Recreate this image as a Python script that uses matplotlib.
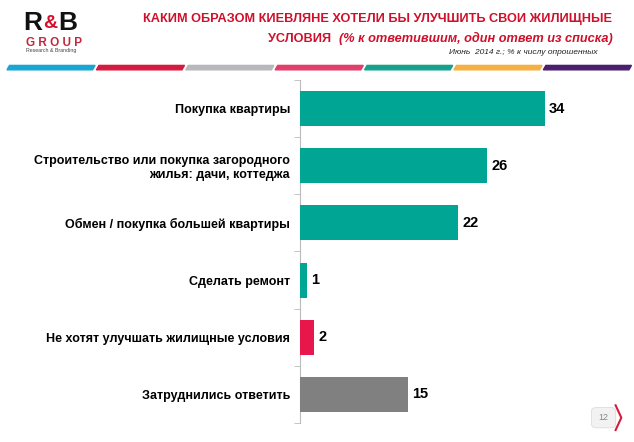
import matplotlib.pyplot as plt
from matplotlib.patches import Polygon, FancyBboxPatch

plt.rcParams['font.family'] = ['Liberation Sans', 'DejaVu Sans']

categories = [
    'Покупка квартиры',
    'Строительство или покупка загородного\nжилья: дачи, коттеджа',
    'Обмен / покупка большей квартиры',
    'Сделать ремонт',
    'Не хотят улучшать жилищные условия',
    'Затруднились ответить',
]
values = [34, 26, 22, 1, 2, 15]
bar_colors = ['#00a594', '#00a594', '#00a594', '#00a594', '#e8174b', '#808080']
stripe_colors = ['#1aa6d2', '#d51a40', '#b8b8bc', '#df3f6a', '#17a08b', '#f4b043', '#4a1f6e']

fig = plt.figure(figsize=(6.34, 4.42), dpi=100)
ax = fig.add_axes([0.473, 0.043, 0.5, 0.776])

y = list(range(len(values)))
ax.barh(y, values, height=0.61, color=bar_colors, zorder=3)
for yi, v in zip(y, values):
    ax.text(v + 0.6, yi, str(v), va='center', ha='left', fontsize=10.5, fontweight='bold')

ax.set_ylim(len(values) - 0.5, -0.5)
ax.set_xlim(0, 44)
ax.set_yticks(y)
ax.set_yticklabels(categories, fontsize=9, fontweight='bold')
ax.set_yticks([i - 0.5 for i in range(len(values) + 1)], minor=True)
ax.tick_params(axis='y', which='major', length=0, pad=7)
ax.tick_params(axis='y', which='minor', length=4, color='#bbbbbb')
ax.set_xticks([])
for s in ['top', 'right', 'bottom']:
    ax.spines[s].set_visible(False)
ax.spines['left'].set_color('#bbbbbb')

# header
red = '#d0102b'
fig.text(0.966, 0.957, 'КАКИМ ОБРАЗОМ КИЕВЛЯНЕ ХОТЕЛИ БЫ УЛУЧШИТЬ СВОИ ЖИЛИЩНЫЕ',
         ha='right', va='center', fontsize=9.2, fontweight='bold', color=red)
sub = fig.text(0.966, 0.912, '(% к ответившим, один ответ из списка)',
               ha='right', va='center', fontsize=9.2, fontweight='bold', style='italic', color=red)
fig.canvas.draw()
bb = sub.get_window_extent(fig.canvas.get_renderer())
left = fig.transFigure.inverted().transform((bb.x0, bb.y0))[0]
fig.text(left - 0.012, 0.912, 'УСЛОВИЯ',
         ha='right', va='center', fontsize=9.2, fontweight='bold', color=red)
fig.text(0.942, 0.882, 'Июнь  2014 г.; % к числу опрошенных',
         ha='right', va='center', fontsize=6, style='italic', color='#222222')

# logo
fig.text(0.037, 0.947, 'R', ha='left', va='center', fontsize=19, fontweight='bold', color='#111111')
fig.text(0.068, 0.947, '&', ha='left', va='center', fontsize=14, fontweight='bold', color=red)
fig.text(0.092, 0.947, 'B', ha='left', va='center', fontsize=19, fontweight='bold', color='#111111')
fig.text(0.041, 0.903, 'G R O U P', ha='left', va='center', fontsize=8.5, fontweight='bold', color='#c0283c')
fig.text(0.041, 0.886, 'Research & Branding', ha='left', va='center', fontsize=3.8, color='#444444')

# colour stripe
x0, x1 = 0.008, 0.995
n = len(stripe_colors)
w = (x1 - x0) / n
yb, yt = 0.842, 0.852
for i, c in enumerate(stripe_colors):
    l = x0 + i * w + 0.003
    r = x0 + (i + 1) * w - 0.003
    poly = Polygon([(l, yb), (r, yb), (r + 0.004, yt), (l + 0.004, yt)],
                   closed=True, transform=fig.transFigure, color=c)
    fig.patches.append(poly)

# page number
box = FancyBboxPatch((0.933, 0.032), 0.038, 0.046, boxstyle='round,pad=0.0,rounding_size=0.008',
                     transform=fig.transFigure, facecolor='#f2f2f2', edgecolor='#dddddd', lw=0.6)
fig.patches.append(box)
fig.lines.append(plt.Line2D([0.971, 0.980, 0.971], [0.083, 0.055, 0.027],
                            transform=fig.transFigure, color='#d51a40', lw=1.5))
fig.text(0.952, 0.055, '12', ha='center', va='center', fontsize=6.5, color='#888888')

fig.savefig('out.png', dpi=100)
